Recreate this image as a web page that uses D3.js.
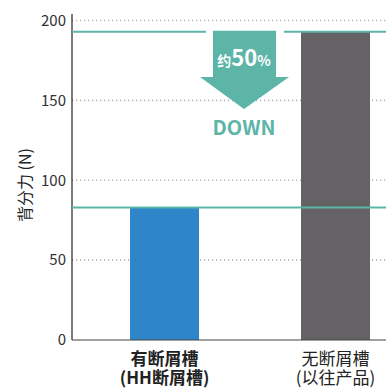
<!DOCTYPE html>
<html lang="zh">
<head>
<meta charset="utf-8">
<title>背分力</title>
<script src="https://d3js.org/d3.v7.min.js"></script>
<style>
  body { margin: 0; background: #fff; }
  text { font-family: "Noto Sans CJK SC", "Noto Sans", sans-serif; }
</style>
</head>
<body>
<script>
// data
const categories = [["有断屑槽", "(HH断屑槽)"], ["无断屑槽", "(以往产品)"]];
const values = [83, 193];
const barColors = ["#2e86c8", "#656265"];
const yTicks = [0, 50, 100, 150, 200];

const width = 386, height = 388;
const margin = {left: 72, right: 0, top: 20, bottom: 48};

const svg = d3.select("body").append("svg")
  .attr("width", width).attr("height", height);

const x = d3.scaleBand()
  .domain(d3.range(categories.length))
  .range([margin.left, width])
  .paddingInner(0.5965).paddingOuter(0.2164).align(0.784);

const y = d3.scaleLinear()
  .domain([0, 200])
  .range([height - margin.bottom, margin.top + 0.5]);

// dotted grid
svg.append("g").selectAll("line")
  .data(yTicks.slice(1))
  .join("line")
  .attr("x1", margin.left).attr("x2", width)
  .attr("y1", d => y(d)).attr("y2", d => y(d))
  .attr("stroke", "#b4b4b4").attr("stroke-width", 1.6)
  .attr("stroke-dasharray", "1.2 2.8");

// bars
svg.append("g").selectAll("rect")
  .data(values)
  .join("rect")
  .attr("x", (d, i) => x(i))
  .attr("width", x.bandwidth())
  .attr("y", d => y(d))
  .attr("height", d => y(0) - y(d))
  .attr("fill", (d, i) => barColors[i]);

// y axis
const yAxis = svg.append("g")
  .attr("transform", `translate(${margin.left},0)`)
  .call(d3.axisLeft(y).tickValues(yTicks).tickSize(0).tickPadding(6));
yAxis.select(".domain").remove();
yAxis.selectAll("text").attr("font-size", 15).attr("fill", "#333")
  .attr("font-family", "'Noto Sans CJK SC', sans-serif");

svg.append("line")
  .attr("x1", margin.left).attr("x2", margin.left)
  .attr("y1", 14).attr("y2", y(0))
  .attr("stroke", "#222").attr("stroke-width", 1.2);
svg.append("line")
  .attr("x1", margin.left).attr("x2", width)
  .attr("y1", y(0)).attr("y2", y(0))
  .attr("stroke", "#444").attr("stroke-width", 1.2);

svg.append("text")
  .attr("transform", `translate(31,${185}) rotate(-90)`)
  .attr("text-anchor", "middle")
  .attr("font-size", 16).attr("fill", "#222")
  .text("背分力 (N)");

// x labels
categories.forEach((c, i) => {
  const t = svg.append("text")
    .attr("text-anchor", "middle")
    .attr("font-size", 17)
    .attr("font-weight", i === 0 ? "bold" : "normal")
    .attr("fill", "#222");
  c.forEach((s, j) => {
    t.append("tspan")
      .attr("x", x(i) + x.bandwidth() / 2)
      .attr("y", 365 + j * 18.5)
      .text(s);
  });
});

// reference lines
const teal = "#5cb5a7";
const hi = y(values[1]), lo = y(values[0]);
const arrowCx = 244;
svg.append("line")
  .attr("x1", margin.left).attr("x2", 206)
  .attr("y1", hi).attr("y2", hi)
  .attr("stroke", teal).attr("stroke-width", 2);
svg.append("line")
  .attr("x1", 284).attr("x2", width)
  .attr("y1", hi).attr("y2", hi)
  .attr("stroke", teal).attr("stroke-width", 2);
svg.append("line")
  .attr("x1", margin.left).attr("x2", width)
  .attr("y1", lo).attr("y2", lo)
  .attr("stroke", teal).attr("stroke-width", 2);

// arrow
svg.append("path")
  .attr("d", `M213,${hi - 1} L276,${hi - 1} L276,77 L289,77 L${arrowCx},109 L200,77 L213,77 Z`)
  .attr("fill", teal);

const lbl = svg.append("text")
  .attr("x", arrowCx).attr("y", 66)
  .attr("text-anchor", "middle")
  .attr("fill", "#fff").attr("font-weight", "bold");
lbl.append("tspan").attr("font-size", 14).text("约");
lbl.append("tspan").attr("font-size", 22).text("50");
lbl.append("tspan").attr("font-size", 14).text("%");

svg.append("text")
  .attr("x", arrowCx).attr("y", 135)
  .attr("text-anchor", "middle")
  .attr("font-size", 20).attr("font-weight", "bold")
  .attr("fill", teal)
  .text("DOWN");
</script>
</body>
</html>
